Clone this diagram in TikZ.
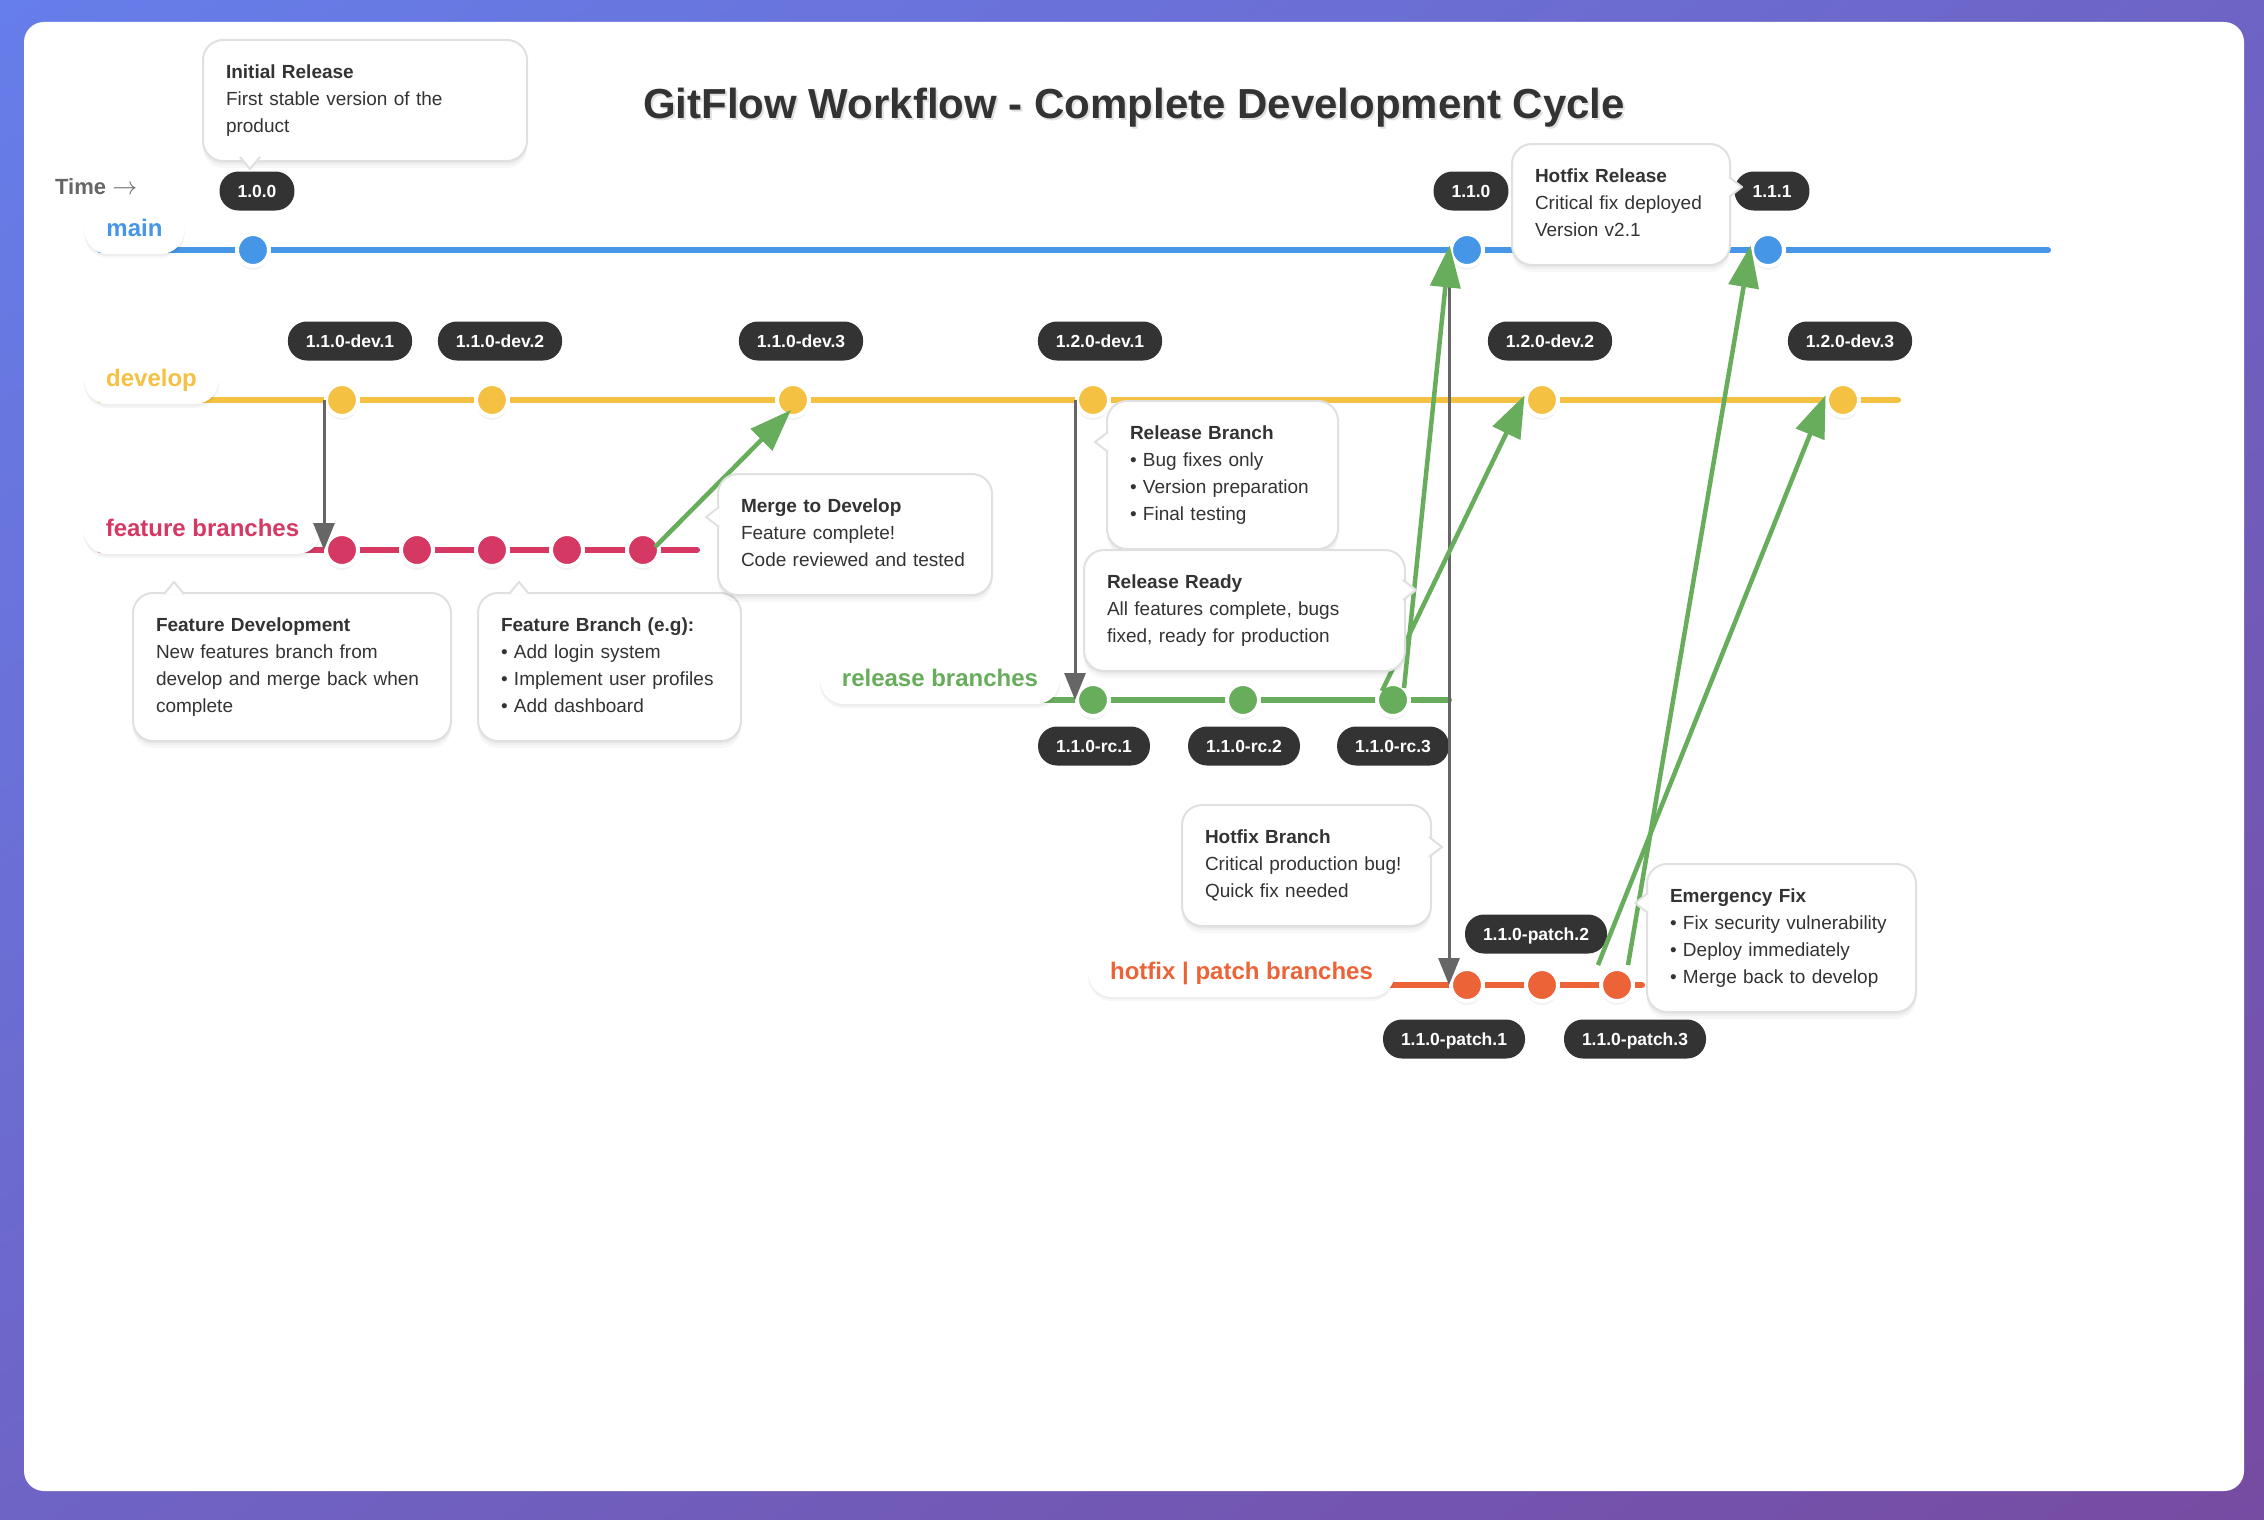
\documentclass[tikz,border=0pt]{standalone}
\usepackage{fontspec}
\setmainfont{Liberation Sans}
\usetikzlibrary{arrows.meta,calc,shadings}

\definecolor{bgA}{HTML}{667EEA}
\definecolor{bgB}{HTML}{764BA2}
\definecolor{bgM}{HTML}{6E64C6}
\definecolor{ink}{HTML}{333333}
\definecolor{muted}{HTML}{666666}
\definecolor{boxline}{HTML}{E0E0E0}
\definecolor{cmain}{HTML}{4596E6}
\definecolor{cdev}{HTML}{F5C142}
\definecolor{cfeat}{HTML}{D63864}
\definecolor{crel}{HTML}{67AD5B}
\definecolor{chot}{HTML}{EC6337}

\newcommand\gfTitle{\fontsize{42}{50}\selectfont\bfseries}
\newcommand\gfLane{\fontsize{24}{28}\selectfont\bfseries}
\newcommand\gfTag{\fontsize{17.5}{20}\selectfont\bfseries}
\newcommand\gfBody{\fontsize{19}{27}\selectfont}
\newcommand\gfTime{\fontsize{22}{26}\selectfont\bfseries}

\begin{document}
\begin{tikzpicture}[x=1pt,y=-1pt,
  softshade/.style={preaction={fill=black, fill opacity=#1, transform canvas={yshift=-2pt}},
                    preaction={fill=black, fill opacity=#1, transform canvas={yshift=-4pt}},
                    preaction={fill=black, fill opacity=#1, transform canvas={yshift=-7pt}}},
  lane/.style={line width=6pt, line cap=round, draw=#1},
  lanelabel/.style={fill=white, text=#1, font=\gfLane, rounded corners=24pt,
    minimum height=52pt, inner xsep=22pt, inner ysep=0pt, text height=17.2pt, text depth=0pt,
    preaction={fill=black, fill opacity=0.035, transform canvas={yshift=-2pt}},
    preaction={fill=black, fill opacity=0.035, transform canvas={yshift=-4pt}}},
  commit/.style={circle, minimum size=32pt, inner sep=0pt, line width=4pt, draw=white, fill=#1,
    preaction={fill=black, fill opacity=0.07, transform canvas={yshift=-2pt}},
    preaction={fill=black, fill opacity=0.05, transform canvas={yshift=-4pt}}},
  tag/.style={fill=ink, text=white, font=\gfTag, rounded corners=19pt, minimum height=39pt,
    inner xsep=18pt, inner ysep=0pt, text height=12.5pt, text depth=0pt},
  callout/.style={draw=boxline, line width=2pt, fill=white, rounded corners=20pt, align=left,
    text width=#1, inner xsep=23pt, inner ysep=20pt, text=ink, font=\gfBody, anchor=north west,
    execute at begin node=\strut, execute at end node=\strut, softshade=0.03},
  pointer/.style={fill=white, draw=boxline, line width=2pt, line join=round},
  merge/.style={draw=crel, line width=4.5pt, -{Triangle[length=42pt,width=30pt]}},
  branch/.style={draw=muted, line width=3pt, -{Triangle[length=27pt,width=21pt]}}
]
\useasboundingbox (0,0) rectangle (2264,1520);
\shade[upper left=bgA, upper right=bgM, lower left=bgM, lower right=bgB] (0,0) rectangle (2264,1520);
\fill[white, rounded corners=20pt] (24,22) rectangle (2244,1491);

% title and time
\node[font=\gfTitle, text=black, opacity=0.12, anchor=base, inner sep=0pt] (titleshade) at (1136,120) {GitFlow Workflow - Complete Development Cycle};
\node[font=\gfTitle, text=ink, anchor=base, inner sep=0pt] (title) at (1134,118) {GitFlow Workflow - Complete Development Cycle};
\node[font=\gfTime, text=muted, anchor=base west, inner sep=0pt] (time) at (55,194) {Time {\fontsize{23}{26}\selectfont$\rightarrow$}};

% lane lines
\coordinate (mainL) at (100,250); \coordinate (mainR) at (2048,250);
\coordinate (devL) at (100,400);  \coordinate (devR) at (1898,400);
\coordinate (featL) at (100,550); \coordinate (featR) at (697,550);
\coordinate (relL) at (1040,700); \coordinate (relR) at (1449,700);
\coordinate (hotL) at (1370,985); \coordinate (hotR) at (1642,985);
\draw[lane=cmain] (mainL) -- (mainR);
\draw[lane=cdev] (devL) -- (devR);
\draw[lane=cfeat] (featL) -- (featR);
\draw[lane=crel] (relL) -- (relR);
\draw[lane=chot] (hotL) -- (hotR);

% lane labels
\node[lanelabel=cmain] (lmain) at (134.5,228) {main};
\node[lanelabel=cdev] (ldev) at (151.5,378) {develop};
\node[lanelabel=cfeat] (lfeat) at (202.5,528) {feature branches};
\node[lanelabel=crel] (lrel) at (940,678) {release branches};
\node[lanelabel=chot] (lhot) at (1241.5,971) {hotfix | patch branches};

% commits
\node[commit=cmain] (m100) at (253,250) {};
\node[commit=cmain] (m110) at (1467,250) {};
\node[commit=cmain] (m111) at (1768,250) {};
\node[commit=cdev] (d1) at (342,400) {};
\node[commit=cdev] (d2) at (492,400) {};
\node[commit=cdev] (d3) at (793,400) {};
\node[commit=cdev] (d4) at (1093,400) {};
\node[commit=cdev] (d5) at (1542,400) {};
\node[commit=cdev] (d6) at (1843,400) {};
\node[commit=cfeat] (f1) at (342,550) {};
\node[commit=cfeat] (f2) at (417,550) {};
\node[commit=cfeat] (f3) at (492,550) {};
\node[commit=cfeat] (f4) at (567,550) {};
\node[commit=cfeat] (f5) at (643,550) {};
\node[commit=crel] (rc1) at (1093,700) {};
\node[commit=crel] (rc2) at (1243,700) {};
\node[commit=crel] (rc3) at (1393,700) {};
\node[commit=chot] (p1) at (1467,985) {};
\node[commit=chot] (p2) at (1542,985) {};
\node[commit=chot] (p3) at (1617,985) {};

% tags
\node[tag] (t100) at (257,191) {1.0.0};
\node[tag] (t110) at (1471,191) {1.1.0};
\node[tag] (t111) at (1772,191) {1.1.1};
\node[tag] (td1) at (350,341) {1.1.0-dev.1};
\node[tag] (td2) at (500,341) {1.1.0-dev.2};
\node[tag] (td3) at (801,341) {1.1.0-dev.3};
\node[tag] (td4) at (1100,341) {1.2.0-dev.1};
\node[tag] (td5) at (1550,341) {1.2.0-dev.2};
\node[tag] (td6) at (1850,341) {1.2.0-dev.3};
\node[tag] (trc1) at (1094,746) {1.1.0-rc.1};
\node[tag] (trc2) at (1244,746) {1.1.0-rc.2};
\node[tag] (trc3) at (1393,746) {1.1.0-rc.3};
\node[tag] (tp1) at (1454,1039) {1.1.0-patch.1};
\node[tag] (tp2) at (1536,934) {1.1.0-patch.2};
\node[tag] (tp3) at (1635,1039) {1.1.0-patch.3};

% branch-off arrows
\draw[branch] (d1.west) -- (f1.west);
\draw[branch] (d4.west) -- (rc1.west);
\draw[branch] (m110.west) -- (p1.west);

% merge arrows
\coordinate (s1) at ($(f5)+(12,-3)$);
\coordinate (e1) at ($(d3)+(-2,10)$);
\coordinate (s2) at ($(rc3)+(11,-12)$);
\coordinate (s3) at ($(rc3)+(-11,-9)$);
\coordinate (s4) at ($(p3)+(11,-20)$);
\coordinate (s5) at ($(p3)+(-19,-20)$);
\draw[merge] (s1) -- (e1);
\draw[merge] (s2) -- (m110.165);
\draw[merge] (s3) -- (d5.165);
\draw[merge] (s4) -- (m111.165);
\draw[merge] (s5) -- (d6.165);

% callouts
\node[callout=278] (ir) at (202,39) {{\bfseries Initial Release}\\First stable version of the\\product};
\filldraw[pointer] (240,157) -- (250,169) -- (260,157);

\node[callout=272] (fd) at (132,592) {{\bfseries Feature Development}\\New features branch from\\develop and merge back when\\complete};
\filldraw[pointer] (164,594) -- (174,582) -- (184,594);

\node[callout=217] (fb) at (477,592) {{\bfseries Feature Branch (e.g):}\\• Add login system\\• Implement user profiles\\• Add dashboard};
\filldraw[pointer] (509,594) -- (519,582) -- (529,594);

\node[callout=228] (mg) at (717,473) {{\bfseries Merge to Develop}\\Feature complete!\\Code reviewed and tested};
\filldraw[pointer] (719,507) -- (706,517) -- (719,527);

\node[callout=185] (rb) at (1106,400) {{\bfseries Release Branch}\\• Bug fixes only\\• Version preparation\\• Final testing};
\filldraw[pointer] (1108,432) -- (1095,442) -- (1108,452);

\node[callout=275] (rr) at (1083,549) {{\bfseries Release Ready}\\All features complete, bugs\\fixed, ready for production};
\filldraw[pointer] (1403,580) -- (1416,590) -- (1403,600);

\node[callout=172] (hr) at (1511,143) {{\bfseries Hotfix Release}\\Critical fix deployed\\Version v2.1};
\filldraw[pointer] (1729,177) -- (1742,187) -- (1729,197);

\node[callout=203] (hb) at (1181,804) {{\bfseries Hotfix Branch}\\Critical production bug!\\Quick fix needed};
\filldraw[pointer] (1429,837) -- (1442,847) -- (1429,857);

\node[callout=223] (ef) at (1646,863) {{\bfseries Emergency Fix}\\• Fix security vulnerability\\• Deploy immediately\\• Merge back to develop};
\filldraw[pointer] (1648,893) -- (1635,903) -- (1648,913);
\end{tikzpicture}
\end{document}
